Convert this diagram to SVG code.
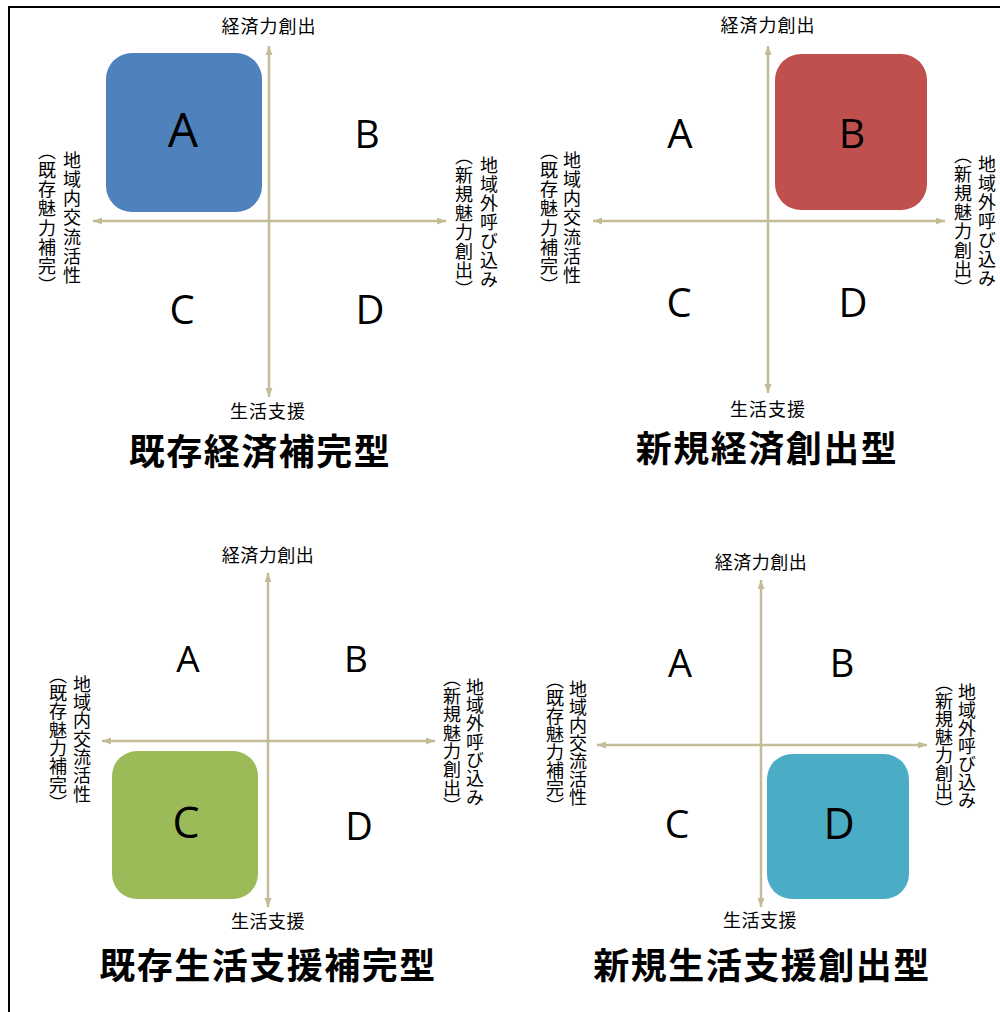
<svg xmlns="http://www.w3.org/2000/svg" width="1000" height="1012" viewBox="0 0 1000 1012">
<style>
.lbl{font-family:"Noto Sans CJK JP","Noto Sans",sans-serif;font-size:18px;fill:#000;text-anchor:middle}
.vt{font-family:"Noto Sans CJK JP","Noto Sans",sans-serif;font-size:18px;fill:#000;writing-mode:vertical-rl;text-anchor:start}
.par{font-feature-settings:"vhal" 1}
.ttl{font-family:"Noto Sans CJK JP",sans-serif;font-size:36px;font-weight:bold;fill:#000;text-anchor:middle;letter-spacing:1.5px}
.let{font-family:"Open Sans","Noto Sans",sans-serif;fill:#000;text-anchor:middle}
.axis{stroke:#C4BC96;stroke-width:2.5;fill:none;marker-start:url(#ah);marker-end:url(#ah)}
</style>
<defs>
<marker id="ah" markerUnits="userSpaceOnUse" markerWidth="10" markerHeight="8" refX="9" refY="3.5" orient="auto-start-reverse">
<path d="M0,0 L9,3.5 L0,7 z" fill="#C4BC96"/>
</marker>
</defs>
<rect x="9" y="7" width="1010" height="1020" fill="none" stroke="#000" stroke-width="2"/>

<g id="connectors">
<line class="axis" x1="269" y1="397" x2="269" y2="46"/>
<line class="axis" x1="446" y1="221" x2="93" y2="221"/>
<line class="axis" x1="768" y1="393" x2="768" y2="46"/>
<line class="axis" x1="945" y1="221" x2="593" y2="221"/>
<line class="axis" x1="268" y1="907" x2="268" y2="573"/>
<line class="axis" x1="435" y1="741" x2="102" y2="741"/>
<line class="axis" x1="761" y1="907" x2="761" y2="580"/>
<line class="axis" x1="927" y1="745" x2="597" y2="745"/>
</g>

<!-- Panel 1 -->
<g id="panel1">
<g id="p1-A"><rect x="106" y="53" width="156" height="159" rx="26" fill="#4F81BD"/><text class="let" x="183" y="147" font-size="48">A</text></g>
<g id="p1-B"><text class="let" x="367" y="148" font-size="39">B</text></g>
<g id="p1-C"><text class="let" x="182" y="324" font-size="40">C</text></g>
<g id="p1-D"><text class="let" x="370" y="324" font-size="40">D</text></g>
<text class="lbl" x="269" y="33" letter-spacing="1">経済力創出</text>
<text class="lbl" x="268" y="418" letter-spacing="1">生活支援</text>
<text class="vt" x="72" y="151" letter-spacing="1.2">地域内交流活性</text>
<text class="vt par" x="47" y="151" letter-spacing="1.2">（既存魅力補完）</text>
<text class="vt" x="489" y="156" letter-spacing="1">地域外呼び込み</text>
<text class="vt par" x="464" y="156" letter-spacing="1">（新規魅力創出）</text>
<text class="ttl" x="260" y="465">既存経済補完型</text>
</g>

<!-- Panel 2 -->
<g id="panel2">
<g id="p2-A"><text class="let" x="680" y="148" font-size="40">A</text></g>
<g id="p2-B"><rect x="775" y="54" width="152" height="156" rx="26" fill="#C0504D"/><text class="let" x="852" y="148" font-size="41">B</text></g>
<g id="p2-C"><text class="let" x="679" y="317" font-size="40">C</text></g>
<g id="p2-D"><text class="let" x="853" y="317" font-size="40">D</text></g>
<text class="lbl" x="768" y="32" letter-spacing="1">経済力創出</text>
<text class="lbl" x="768" y="416" letter-spacing="1">生活支援</text>
<text class="vt" x="572" y="151" letter-spacing="1.2">地域内交流活性</text>
<text class="vt par" x="549" y="151" letter-spacing="1.2">（既存魅力補完）</text>
<text class="vt" x="987" y="155" letter-spacing="1">地域外呼び込み</text>
<text class="vt par" x="963" y="155" letter-spacing="1">（新規魅力創出）</text>
<text class="ttl" x="767" y="462">新規経済創出型</text>
</g>

<!-- Panel 3 -->
<g id="panel3">
<g id="p3-A"><text class="let" x="188" y="672" font-size="37">A</text></g>
<g id="p3-B"><text class="let" x="356" y="672" font-size="37">B</text></g>
<g id="p3-C"><rect x="112" y="751" width="146" height="148" rx="25" fill="#9BBB59"/><text class="let" x="186" y="838" font-size="43">C</text></g>
<g id="p3-D"><text class="let" x="359" y="840" font-size="38">D</text></g>
<text class="lbl" x="268" y="562" letter-spacing="0.5">経済力創出</text>
<text class="lbl" x="268" y="928" letter-spacing="0.5">生活支援</text>
<text class="vt" x="82" y="675" letter-spacing="0.3">地域内交流活性</text>
<text class="vt par" x="58" y="675" letter-spacing="0.3">（既存魅力補完）</text>
<text class="vt" x="475" y="678" letter-spacing="0.3">地域外呼び込み</text>
<text class="vt par" x="452" y="678" letter-spacing="0.3">（新規魅力創出）</text>
<text class="ttl" x="268" y="979">既存生活支援補完型</text>
</g>

<!-- Panel 4 -->
<g id="panel4">
<g id="p4-A"><text class="let" x="680" y="677" font-size="38">A</text></g>
<g id="p4-B"><text class="let" x="842" y="677" font-size="38">B</text></g>
<g id="p4-C"><text class="let" x="677" y="838" font-size="39">C</text></g>
<g id="p4-D"><rect x="767" y="754" width="142" height="145" rx="25" fill="#4BACC6"/><text class="let" x="839" y="839" font-size="43">D</text></g>
<text class="lbl" x="761" y="569" letter-spacing="0.5">経済力創出</text>
<text class="lbl" x="760" y="927" letter-spacing="0.5">生活支援</text>
<text class="vt" x="578" y="680" letter-spacing="0">地域内交流活性</text>
<text class="vt par" x="555" y="680" letter-spacing="0">（既存魅力補完）</text>
<text class="vt" x="967" y="683" letter-spacing="0">地域外呼び込み</text>
<text class="vt par" x="944" y="683" letter-spacing="0">（新規魅力創出）</text>
<text class="ttl" x="762" y="979">新規生活支援創出型</text>
</g>
</svg>
